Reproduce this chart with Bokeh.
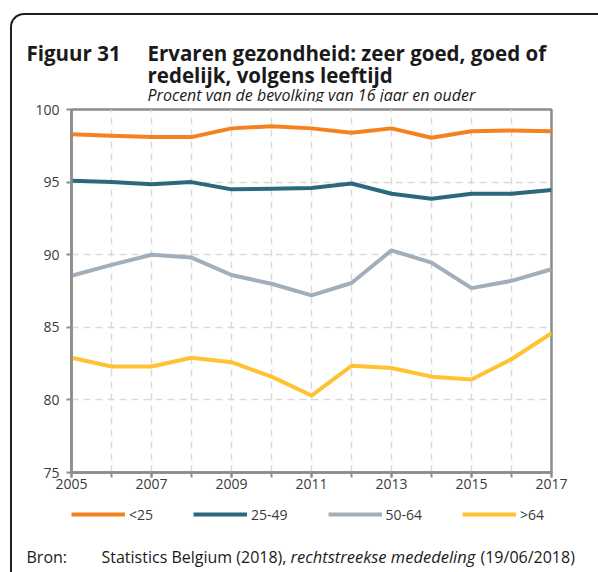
from bokeh.plotting import figure
from bokeh.layouts import column
from bokeh.models import Label, Legend, LegendItem, FixedTicker, InlineStyleSheet
from bokeh.embed import file_html
from bokeh.resources import INLINE

# ---- data ----
years = list(range(2005, 2018))
under25 = [98.3, 98.2, 98.1, 98.1, 98.7, 98.85, 98.7, 98.4, 98.7, 98.05, 98.5, 98.55, 98.5]
age25_49 = [95.1, 95.0, 94.85, 95.0, 94.5, 94.55, 94.6, 94.9, 94.2, 93.85, 94.2, 94.2, 94.45]
age50_64 = [88.55, 89.3, 90.0, 89.8, 88.6, 88.0, 87.2, 88.05, 90.3, 89.45, 87.7, 88.2, 89.0]
over64 = [82.9, 82.3, 82.3, 82.9, 82.6, 81.6, 80.3, 82.35, 82.2, 81.6, 81.4, 82.8, 84.6]
series_names = ["<25", "25-49", "50-64", ">64"]
series_colors = ["#F5821F", "#2B687D", "#A3AEBB", "#FFC233"]
x_tick_years = [2005, 2007, 2009, 2011, 2013, 2015, 2017]
y_ticks = [75, 80, 85, 90, 95, 100]
all_series = [under25, age25_49, age50_64, over64]

FONT = "Open Sans"
AXIS_GREY = "#8C8C8C"
TXT = "#1A1A1A"
W = 598


def text_panel(height):
    f = figure(width=W, height=height, x_range=(0, W), y_range=(0, height),
               x_axis_type=None, y_axis_type=None, output_backend="svg",
               toolbar_location=None, min_border=0, frame_align=False)
    f.grid.visible = False
    f.outline_line_color = None
    f.background_fill_color = "white"
    f.border_fill_color = "white"
    return f


def lab(f, x, y, text, size, style="normal"):
    f.add_layout(Label(x=x, y=y, text=text, text_font=FONT, text_font_size=size,
                       text_font_style=style, text_color=TXT,
                       text_baseline="alphabetic", text_align="left"))


# ---- header (page y 0..102) ----
HH = 102
head = text_panel(HH)
lab(head, 26, HH - 52, "Figuur 31", "20.5px", "bold")
lab(head, 147, HH - 52, "Ervaren gezondheid: zeer goed, goed of", "20.5px", "bold")
lab(head, 147, HH - 74, "redelijk, volgens leeftijd", "20.5px", "bold")
lab(head, 147, HH - 94, "Procent van de bevolking van 16 jaar en ouder", "16px", "italic")

# ---- main chart (page y 102..500, frame 109..472) ----
p = figure(width=W, height=398, x_range=(2005, 2017), y_range=(75, 100),
           output_backend="svg", toolbar_location=None, frame_align=False,
           min_border_left=71, min_border_right=47, min_border_top=7, min_border_bottom=28)
p.background_fill_color = "white"
p.border_fill_color = "white"
p.outline_line_color = AXIS_GREY
p.outline_line_width = 2.5

for ax in (p.xaxis[0], p.yaxis[0]):
    ax.axis_line_color = AXIS_GREY
    ax.axis_line_width = 2.5
    ax.major_tick_line_color = AXIS_GREY
    ax.major_tick_line_width = 2
    ax.major_tick_in = 0
    ax.major_tick_out = 5
    ax.minor_tick_line_color = AXIS_GREY
    ax.minor_tick_line_width = 2
    ax.minor_tick_in = 0
    ax.minor_tick_out = 5
    ax.major_label_text_font = FONT
    ax.major_label_text_font_size = "14px"
    ax.major_label_text_color = "#3A3A3A"

p.xaxis.ticker = FixedTicker(ticks=x_tick_years, minor_ticks=years)
p.yaxis.ticker = FixedTicker(ticks=y_ticks, minor_ticks=[])
p.xaxis.major_label_standoff = 1
p.yaxis.major_label_standoff = 7

p.xgrid.ticker = FixedTicker(ticks=years[1:-1])
p.ygrid.ticker = FixedTicker(ticks=y_ticks[1:-1])
for g in (p.xgrid[0], p.ygrid[0]):
    g.grid_line_color = "#D9D9D9"
    g.grid_line_width = 1.5
    g.grid_line_dash = "7 5"

for vals, col in zip(all_series, series_colors):
    p.line(years, vals, line_color=col, line_width=4)

# ---- footer (page y 500..572): legend + source ----
FH = 72
foot = text_panel(FH)
# legend keys: the same series drawn in the footer panel (they fall outside its view)
keys = [foot.line(years, vals, line_color=col, line_width=4)
        for vals, col in zip(all_series, series_colors)]
legend = Legend(items=[LegendItem(label=n, renderers=[r]) for n, r in zip(series_names, keys)],
                orientation="horizontal", location=(71, FH - 24),
                glyph_width=54, glyph_height=20, label_standoff=4, spacing=40,
                padding=0, margin=0, border_line_color=None, background_fill_alpha=0,
                label_text_font=FONT, label_text_font_size="14px", label_text_color="#3A3A3A")
foot.add_layout(legend, "center")

lab(foot, 26, FH - 56, "Bron:", "16px")
lab(foot, 101, FH - 56, "Statistics Belgium (2018),", "16px")
lab(foot, 290, FH - 56, "rechtstreekse mededeling", "16.5px", "italic")
lab(foot, 480, FH - 56, "(19/06/2018)", "16px")

css = (":host{position:relative;}"
       ":host::after{content:'';position:absolute;left:10px;top:13px;right:-8px;bottom:0;"
       "border-top:2px solid #1F1F1F;border-left:2px solid #1F1F1F;"
       "border-top-left-radius:14px;pointer-events:none;}")
layout = column(head, p, foot, spacing=0)
layout.stylesheets = [InlineStyleSheet(css=css)]

open("out.html", "w").write(file_html(layout, INLINE))
